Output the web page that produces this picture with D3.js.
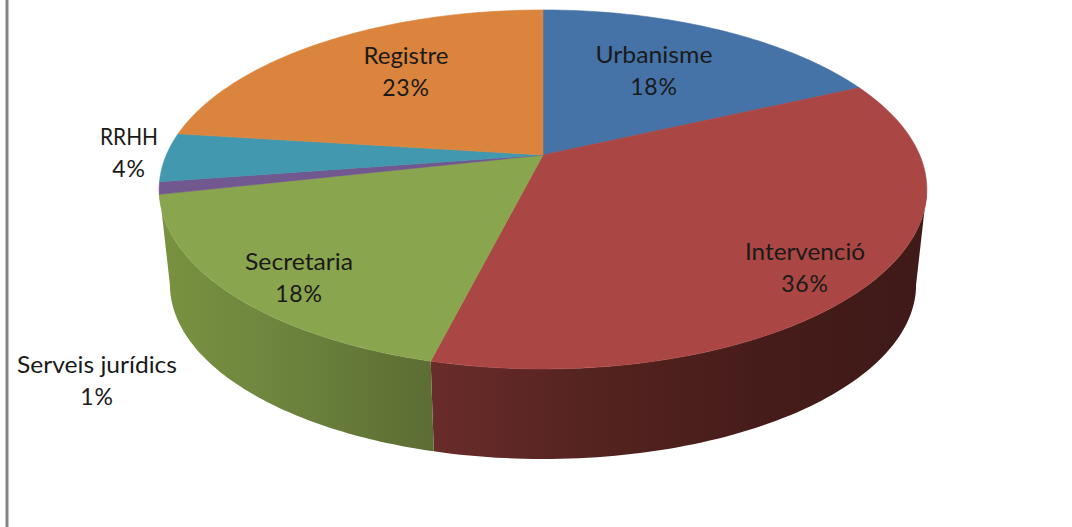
<!DOCTYPE html>
<html>
<head>
<meta charset="utf-8">
<script src="https://cdnjs.cloudflare.com/ajax/libs/d3/7.8.5/d3.min.js"></script>
<style>
  html, body { margin: 0; padding: 0; background: #fff; overflow: hidden; }
  text { font-family: Lato, "Open Sans", sans-serif; font-size: 23px; fill: #1a1a1a; text-anchor: middle; }
</style>
</head>
<body>
<svg id="chart" width="1072" height="527"></svg>
<script>
// slice shares, the labels show them rounded
const categories = ["Urbanisme", "Intervenció", "Secretaria", "Serveis jurídics", "RRHH", "Registre"];
const values = [18.1, 35.8, 17.6, 1.1, 4.4, 23];
const colors = ["#4572a7", "#aa4643", "#89a54e", "#71588f", "#4198af", "#db843d"];

// label centres and name widths, same order as categories
const labelX = [654, 805, 299, 97, 129, 406];
const labelY = [55, 252, 262, 365, 137, 56];
const labelWidth = [117, 120, 108, 160, 58, 85];

// side wall shading, left to right
const wallShades = {
  "Intervenció": ["#692c2b", "#54231f", "#461c1a", "#3e1a18"],
  "Secretaria": ["#78923f", "#70883f", "#667b39", "#5c6d33"]
};

const svg = d3.select("#chart");
const defs = svg.append("defs");

// tilted circle: apex sits above the middle of the ellipse because of the perspective
const apex = {x: 543, y: 155};
const persp = 0.192, rx = 376.7, ry = 172.9;
const baseScale = 0.972, baseDrop = 96;

function project(a) {
  const px = Math.sin(a), py = -Math.cos(a), d = 1 - persp * py;
  return [rx * px / d, ry * py / d];
}
const topPoint = a => { const p = project(a); return [apex.x + p[0], apex.y + p[1]]; };
const basePoint = a => { const p = project(a); return [apex.x + p[0] * baseScale, apex.y + p[1] * baseScale + baseDrop]; };

const pie = d3.pie().sort(null).value(d => d.value);
const slices = pie(categories.map((c, i) => ({name: c, value: values[i], color: colors[i]})));

const line = d3.line();
const sweep = (a0, a1) => d3.range(0, 81).map(k => a0 + (a1 - a0) * k / 80);

// the wall is only seen between the two widest points of the ellipse
const wallFrom = Math.acos(-persp), wallTo = 2 * Math.PI - wallFrom;

slices.filter(d => wallShades[d.data.name]).forEach((d, i) => {
  const a0 = Math.max(d.startAngle, wallFrom);
  // Secretaria also closes the small gap up to the left edge
  const a1 = d.data.name === "Secretaria" ? wallTo : d.endAngle;
  const angles = sweep(a0, a1);
  const pts = angles.map(topPoint).concat(angles.slice().reverse().map(basePoint));
  const xs = pts.map(p => p[0]);
  const id = "wall" + i;
  const grad = defs.append("linearGradient").attr("id", id)
    .attr("gradientUnits", "userSpaceOnUse")
    .attr("x1", d3.min(xs)).attr("x2", d3.max(xs)).attr("y1", 0).attr("y2", 0);
  wallShades[d.data.name].forEach((s, k, all) => grad.append("stop").attr("offset", k / (all.length - 1)).attr("stop-color", s));
  svg.append("path").attr("d", line(pts) + "Z").attr("fill", `url(#${id})`);
});

// top faces
slices.forEach(d => {
  const pts = [[apex.x, apex.y]].concat(sweep(d.startAngle, d.endAngle).map(topPoint));
  svg.append("path").attr("d", line(pts) + "Z").attr("fill", d.data.color)
    .attr("stroke", d.data.color).attr("stroke-width", 0.6);
});

// labels
slices.forEach((d, i) => {
  svg.append("text").attr("x", labelX[i]).attr("y", labelY[i] + 8)
    .attr("textLength", labelWidth[i]).attr("lengthAdjust", "spacingAndGlyphs")
    .text(d.data.name);
  svg.append("text").attr("x", labelX[i]).attr("y", labelY[i] + 40)
    .attr("letter-spacing", 0.8)
    .text(Math.round(d.data.value) + "%");
});

// frame line on the left
svg.append("line").attr("x1", 7).attr("x2", 7).attr("y1", 0).attr("y2", 527)
  .attr("stroke", "#868686").attr("stroke-width", 3);
</script>
</body>
</html>
